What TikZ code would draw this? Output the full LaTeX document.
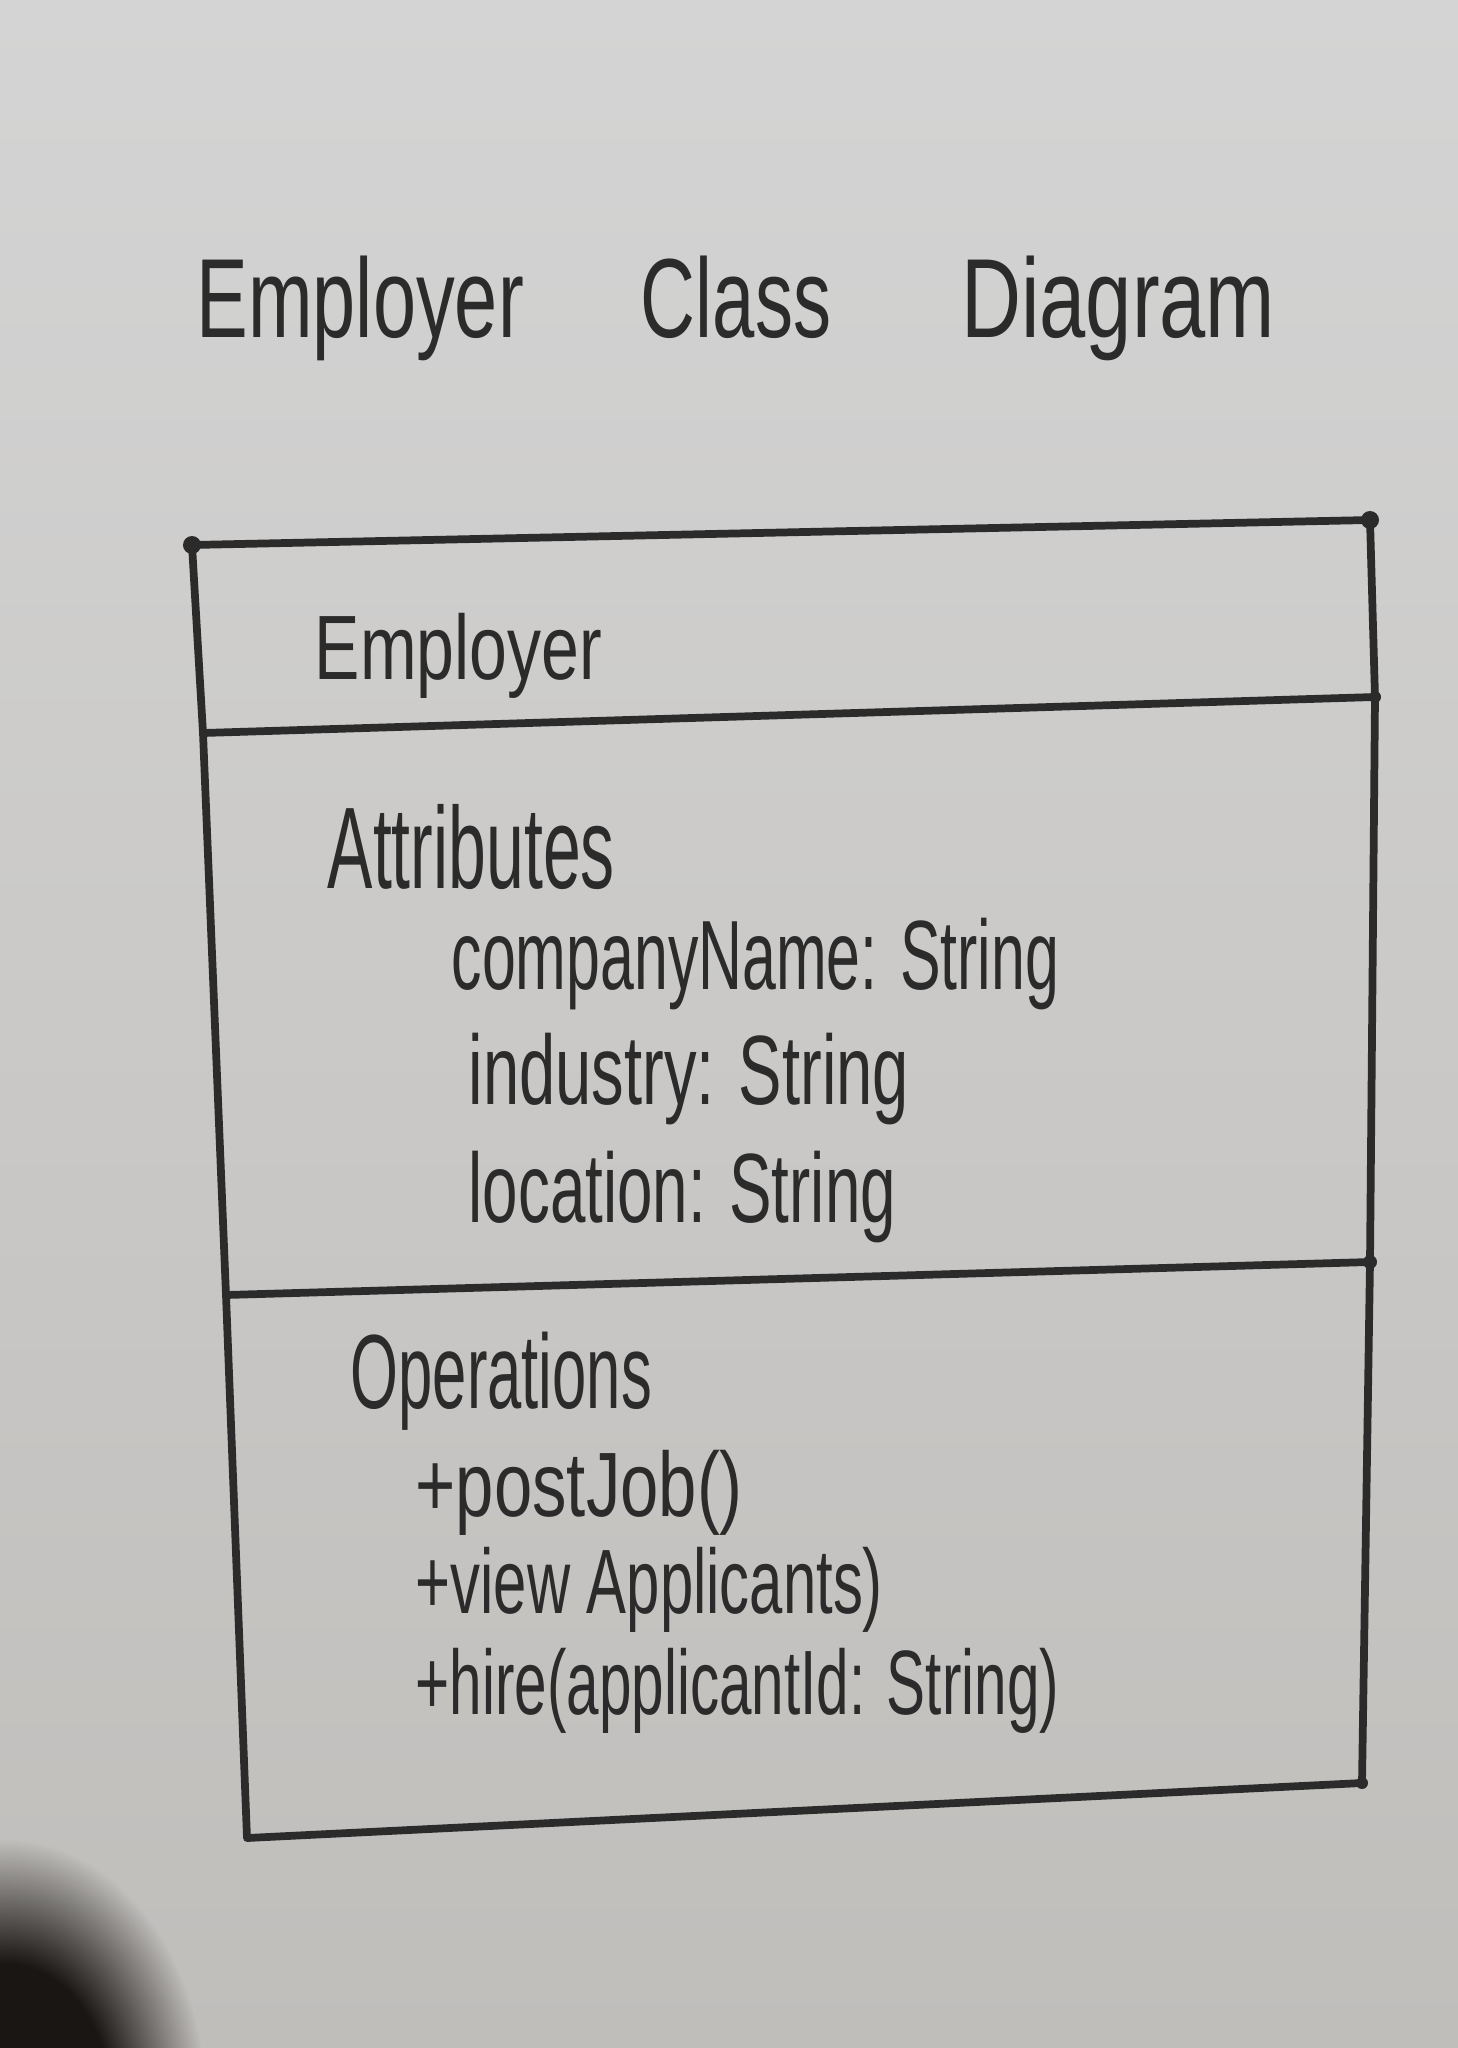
\documentclass[tikz,border=0pt]{standalone}
\usepackage{fontspec}
\setmainfont{Liberation Sans}
\usetikzlibrary{fadings}

\definecolor{paperTop}{HTML}{D4D4D4}
\definecolor{paperBot}{HTML}{C0BEBB}
\definecolor{ink}{HTML}{2B2B2B}
\definecolor{fingershadow}{HTML}{1A1614}

% soft-edged mask for the dark shadow in the lower left corner
\pgfdeclareradialshading{blobmask}{\pgfpointorigin}{rgb(0bp)=(1,1,1); rgb(13bp)=(1,1,1); rgb(25bp)=(0,0,0); rgb(50bp)=(0,0,0)}
\pgfdeclarefading{softblob}{\pgfuseshading{blobmask}}

% narrow handwritten-looking text: fixed width, natural height
\newcommand\hw[3]{\resizebox{#1}{\height}{\fontsize{#2}{#2}\selectfont #3}}

\begin{document}
\begin{tikzpicture}[x=0.01cm,y=-0.01cm,
  frame/.style={draw=ink, line width=2.2pt, line cap=round, line join=round},
  handtext/.style={anchor=base west, inner sep=0pt, text=ink}]
\useasboundingbox (0,0) rectangle (1458,2048);

% paper
\shade[top color=paperTop, bottom color=paperBot] (0,0) rectangle (1458,2048);
\fill[fingershadow, path fading=softblob] (5,2100) ellipse [x radius=2.0cm, y radius=2.6cm];

% title
\node[handtext] (title) at (196,337) {\hw{3.27cm}{32}{Employer}\hspace{1.17cm}\hw{1.9cm}{32}{Class}\hspace{1.3cm}\hw{3.14cm}{32}{Diagram}};

% class box corners and compartment dividers
\coordinate (tl) at (192,545);
\coordinate (tr) at (1370,520);
\coordinate (d1l) at (203,733);
\coordinate (d1r) at (1375,697);
\coordinate (d2l) at (226,1295);
\coordinate (d2r) at (1370,1262);
\coordinate (br) at (1362,1783);
\coordinate (bl) at (247,1838);

\draw[frame] (tl) -- (tr) -- (d1r) -- (d2r) -- (br) -- (bl) -- (d2l) -- (d1l) -- cycle;
\draw[frame] (d1l) -- (d1r);
\draw[frame] (d2l) -- (d2r);

% ink blots at the pen stops
\fill[ink] (tl) circle (0.09cm);
\fill[ink] (tr) circle (0.09cm);
\fill[ink] (d1r) circle (0.06cm);
\fill[ink] (d2r) circle (0.07cm);
\fill[ink] (br) circle (0.06cm);

% class name
\node[handtext] (cls) at (314,679) {\hw{2.87cm}{26}{Employer}};

% attributes compartment
\node[handtext] (attrhead) at (327,888) {\hw{2.87cm}{33}{Attributes}};
\node[handtext] (attr1) at (451,989) {\hw{6.07cm}{28}{companyName: String}};
\node[handtext] (attr2) at (468,1104) {\hw{4.40cm}{28}{industry: String}};
\node[handtext] (attr3) at (468,1222) {\hw{4.27cm}{28}{location: String}};

% operations compartment
\node[handtext] (ophead) at (350,1408) {\hw{3.01cm}{30}{Operations}};
\node[handtext] (op1) at (415,1516) {\hw{3.27cm}{26}{+postJob()}};
\node[handtext] (op2) at (415,1613) {\hw{4.67cm}{26}{+view Applicants)}};
\node[handtext] (op3) at (415,1714) {\hw{6.43cm}{26}{+hire(applicantId: String)}};
\end{tikzpicture}
\end{document}
